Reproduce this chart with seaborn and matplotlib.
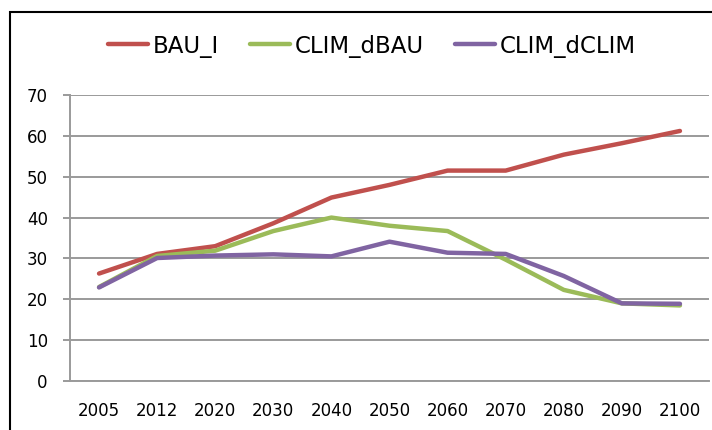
import pandas as pd
import seaborn as sns
import matplotlib.pyplot as plt
from matplotlib.patches import Rectangle

years = ['2005', '2012', '2020', '2030', '2040', '2050', '2060', '2070', '2080', '2090', '2100']
bau_i = [26.3, 31.1, 33.0, 38.6, 44.9, 48.0, 51.5, 51.5, 55.4, 58.2, 61.2]
clim_dbau = [23.0, 30.6, 31.9, 36.7, 40.0, 38.0, 36.7, 29.7, 22.3, 19.0, 18.5]
clim_dclim = [22.9, 30.1, 30.7, 31.0, 30.5, 34.1, 31.4, 31.1, 25.7, 19.0, 18.9]

series = {'BAU_I': bau_i, 'CLIM_dBAU': clim_dbau, 'CLIM_dCLIM': clim_dclim}
colors = ['#C0504D', '#9BBB59', '#8064A2']

# long form table for seaborn
frames = []
for name, vals in series.items():
    frames.append(pd.DataFrame({'Year': years, 'Value': vals, 'Series': name}))
df = pd.concat(frames, ignore_index=True)

sns.set_style('white')
plt.rcParams['font.family'] = ['DejaVu Sans']
plt.rcParams['text.color'] = 'black'
plt.rcParams['xtick.labelcolor'] = 'black'
plt.rcParams['ytick.labelcolor'] = 'black'

fig = plt.figure(figsize=(7.12, 4.30), dpi=100)
ax = fig.add_axes([70 / 712, 1 - 381 / 430, 639 / 712, 286 / 430])

sns.lineplot(data=df, x='Year', y='Value', hue='Series', palette=colors,
             linewidth=3.2, ax=ax, sort=False, legend=True)

grid_c = '#9A9A9A'
ax.set_ylim(0, 70)
ax.set_xlim(-0.5, len(years) - 0.5)
ax.set_yticks(range(0, 71, 10))
ax.yaxis.grid(True, color=grid_c, linewidth=1.4)
ax.set_axisbelow(True)
ax.set_xlabel('')
ax.set_ylabel('')

# category ticks between the labels, Excel style
ax.set_xticks(range(len(years)))
ax.set_xticklabels(years)
ax.set_xticks([i - 0.5 for i in range(len(years) + 1)], minor=True)
ax.tick_params(axis='x', which='major', length=0, pad=15, labelsize=12)
ax.tick_params(axis='x', which='minor', length=6, width=1.4, color=grid_c, direction='out')
ax.tick_params(axis='y', length=5, width=1.4, color=grid_c, pad=11, labelsize=12, left=True)

for side in ['top', 'right']:
    ax.spines[side].set_visible(False)
for side in ['left', 'bottom']:
    ax.spines[side].set_color(grid_c)
    ax.spines[side].set_linewidth(1.4)

for line in ax.get_lines():
    line.set_solid_capstyle('round')

handles, labels = ax.get_legend_handles_labels()
ax.get_legend().remove()
fig.legend(handles, labels, loc='center', bbox_to_anchor=(372 / 712, 1 - 46 / 430),
           ncol=3, frameon=False, fontsize=16.5, handlelength=1.75,
           handletextpad=0.2, columnspacing=1.35)

# chart border
fig.patches.append(Rectangle((10 / 712, -0.1), 1.2, 1.1 - 12 / 430,
                             transform=fig.transFigure, fill=False,
                             edgecolor='black', linewidth=1.5))

fig.savefig('out.png', dpi=100)
